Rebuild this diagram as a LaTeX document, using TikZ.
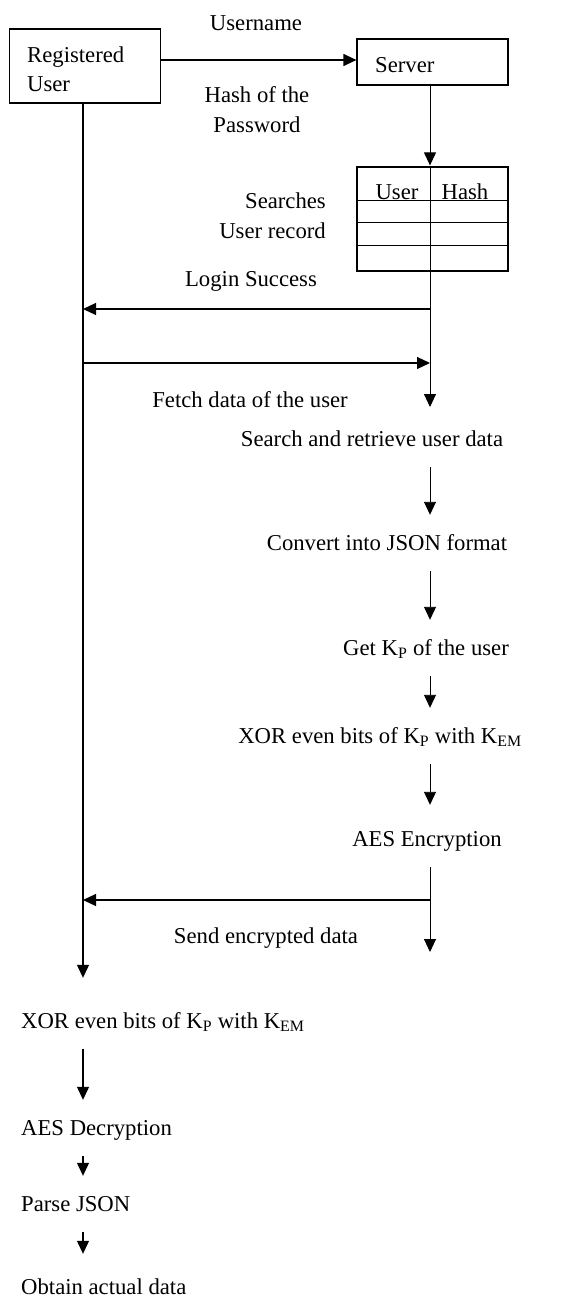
\documentclass[tikz,border=0pt]{standalone}
\usepackage{fontspec}
\setmainfont{Liberation Serif}
\usetikzlibrary{arrows.meta,positioning}
\tikzset{
  box/.style={draw, line width=1.2pt, minimum width=151pt, inner sep=0pt},
  lbl/.style={inner sep=0pt, anchor=base},
  steptxt/.style={inner xsep=0pt, inner ysep=16pt, text height=16pt, text depth=5pt, anchor=base},
  flow/.style={line width=0.9pt, -{Triangle[length=13pt,width=12pt]}, shorten >=3pt},
  msg/.style={line width=1.2pt, -{Triangle[length=13pt,width=12pt]}},
}
\begin{document}
\begin{tikzpicture}[x=1pt,y=-1pt,font=\fontsize{22.7}{29.5}\selectfont]
\useasboundingbox (0,0) rectangle (569,1298);
% the two parties
\node[box, minimum height=74pt] (reg) at (85,66) {};
\node[lbl, anchor=base west, align=left] (regtxt) at (27,92) {Registered\\User};
\node[box, minimum height=46pt] (srv) at (432.5,62) {};
\node[lbl, anchor=base west] (srvtxt) at (375,72) {Server};
\coordinate (ux) at (83,0);
\coordinate (sx) at (430,0);

% login request
\draw[msg] ([yshift=6pt]reg.east) -- ([yshift=6pt]reg.east -| srv.west);
\node[lbl] (uname) at (256,31) {Username};
\node[lbl, align=center] (hashpw) at (257,132) {Hash of the\\Password};

% user table on the server
\node[box, minimum height=104pt] (tbl) at (432.5,219) {};
\foreach \d in {34,56,79}
  \draw[line width=1.2pt] ([yshift=-\d pt]tbl.north west) -- ([yshift=-\d pt]tbl.north east);
\node[lbl] (colu) at (397,199) {User};
\node[lbl] (colh) at (465,199) {Hash};
\node[lbl, anchor=base east, align=right] (searches) at (326,238) {Searches\\User record};
\draw[flow, shorten >=1pt] (srv.south -| sx) -- (tbl.north -| sx);

% login answer and data request
\node[lbl] (login) at (251,286) {Login Success};
\node[lbl] (fetch) at (250,407) {Fetch data of the user};
\coordinate (ok) at (430,309);
\coordinate (req) at (83,363);
\draw[flow, shorten >=0pt] (tbl.north -| sx) -- (sx |- fetch.base);
\draw[msg] (ok) -- (ok -| ux);
\draw[msg] (req) -- (req -| sx);

% server side steps
\node[steptxt] (search) at (372,446) {Search and retrieve user data};
\node[steptxt] (convert) at (387,550) {Convert into JSON format};
\node[steptxt] (getkp) at (426,655) {Get K\textsubscript{P} of the user};
\node[steptxt] (xors) at (380,743) {XOR even bits of K\textsubscript{P} with K\textsubscript{EM}};
\node[steptxt] (aesenc) at (427,846) {AES Encryption};
\draw[flow] (search.south -| sx) -- (convert.north -| sx);
\draw[flow] (convert.south -| sx) -- (getkp.north -| sx);
\draw[flow] (getkp.south -| sx) -- (xors.north -| sx);
\draw[flow, shorten >=9pt] (xors.south -| sx) -- (aesenc.north -| sx);

% reply to the user
\node[lbl] (send) at (266,943) {Send encrypted data};
\coordinate (back) at (430,900);
\coordinate (srvend) at (430,952);
\draw[flow, shorten >=0pt] (aesenc.south -| sx) -- (srvend);
\draw[msg] (back) -- (back -| ux);

% user side steps
\node[steptxt, anchor=base west] (xoru) at (21,1028) {XOR even bits of K\textsubscript{P} with K\textsubscript{EM}};
\node[steptxt, anchor=base west] (aesdec) at (21,1135) {AES Decryption};
\node[steptxt, anchor=base west] (parse) at (21,1211) {Parse JSON};
\node[steptxt, anchor=base west] (obtain) at (21,1294) {Obtain actual data};
\draw[flow, line width=1.2pt, shorten >=18pt] (reg.south -| ux) -- (xoru.north -| ux);
\draw[flow, line width=1.2pt] (xoru.south -| ux) -- (aesdec.north -| ux);
\draw[flow, line width=1.2pt] (aesdec.south -| ux) -- (parse.north -| ux);
\draw[flow, line width=1.2pt, shorten >=8pt] (parse.south -| ux) -- (obtain.north -| ux);
\end{tikzpicture}
\end{document}
